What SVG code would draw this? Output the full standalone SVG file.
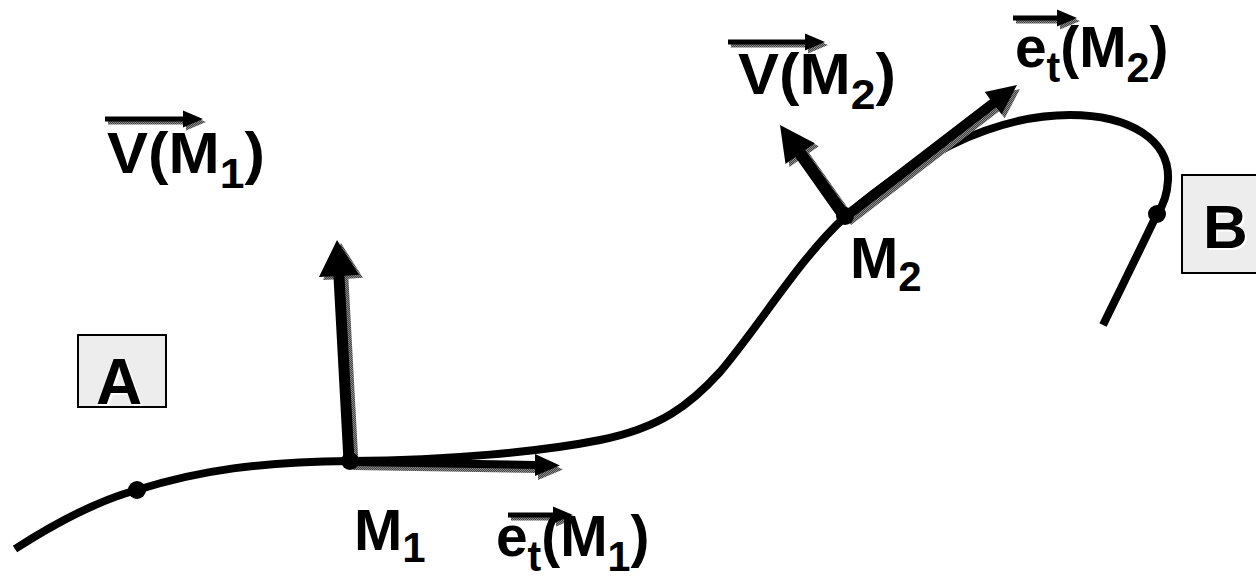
<svg xmlns="http://www.w3.org/2000/svg" width="1256" height="581" viewBox="0 0 1256 581">
<defs>
<pattern id="hatch" width="2" height="2" patternUnits="userSpaceOnUse">
<rect width="2" height="2" fill="#8a8a8a"/>
<rect width="1" height="1" fill="#444"/>
<rect x="1" y="1" width="1" height="1" fill="#444"/>
</pattern>
<style>
.lbl{font-family:"Liberation Sans",Arial,sans-serif;font-weight:bold;fill:#000;font-size:58px}
.sub{font-size:42px}
.box{fill:#ededed;stroke:#000;stroke-width:2}
.curve{fill:none;stroke:#000;stroke-width:8;stroke-linecap:butt}
.shadow{fill:url(#hatch)}
.arr{fill:#000}
</style>
</defs>
<rect width="1256" height="581" fill="#fff"/>

<g id="connectors">
<path class="curve" d="M 15 549 C 60 520, 100 500, 137 490 C 200 470, 260 462, 350 461 C 450 460, 540 452, 600 440 C 660 428, 690 405, 720 372 C 760 325, 800 258, 845 217 C 910 160, 990 115, 1070 115 C 1130 115, 1170 140, 1168 180 C 1167 200, 1160 210, 1157 214 C 1140 250, 1120 290, 1103 325"/>
</g>

<g id="point-start"><circle cx="137" cy="490" r="9"/></g>
<g id="point-end"><circle cx="1157" cy="214" r="9"/></g>

<g id="box-A">
<rect class="box" x="78" y="335" width="88" height="72"/>
<text class="lbl" x="98" y="406" style="font-size:64px;fill:#fff">A</text>
<text class="lbl" x="96" y="404" style="font-size:64px">A</text>
</g>

<g id="box-B">
<rect class="box" x="1182" y="175" width="80" height="98"/>
<text class="lbl" x="1205" y="250" style="font-size:62px;fill:#fff">B</text>
<text class="lbl" x="1203" y="248" style="font-size:62px">B</text>
</g>

<g id="M1">
<polygon class="shadow" transform="translate(4,3)" points="343.51,461.30 333.46,276.25 318.98,277.03 337,240 358.92,274.87 344.44,275.65 354.49,460.70"/>
<polygon class="arr" points="343.51,461.30 333.46,276.25 318.98,277.03 337,240 358.92,274.87 344.44,275.65 354.49,460.70"/>
<polygon class="shadow" transform="translate(3,4)" points="350,458 535,461 535,454 560,465.5 535,476 535,469 350,466"/>
<polygon class="arr" points="350,458 535,461 535,454 560,465.5 535,476 535,469 350,466"/>
<circle cx="350" cy="461" r="9"/>
<text class="lbl" x="354" y="550">M<tspan class="sub" dy="12">1</tspan></text>
</g>

<g id="M2">
<polygon class="shadow" transform="translate(4,3)" points="840.1,220.5 795.3,157.1 785.5,164.0 780,125 814.9,143.2 805.1,150.1 849.9,213.5"/>
<polygon class="arr" points="840.1,220.5 795.3,157.1 785.5,164.0 780,125 814.9,143.2 805.1,150.1 849.9,213.5"/>
<polygon class="shadow" transform="translate(3,4)" points="842.0,213.0 990.2,99.2 984.7,92.1 1017,85 1001.7,114.3 996.2,107.2 848.0,221.0"/>
<polygon class="arr" points="842.0,213.0 990.2,99.2 984.7,92.1 1017,85 1001.7,114.3 996.2,107.2 848.0,221.0"/>
<circle cx="845" cy="216" r="9"/>
<text class="lbl" x="850" y="278">M<tspan class="sub" dy="13">2</tspan></text>
</g>

<g id="label-V-M1">
<polygon class="shadow" transform="translate(3,3)" points="105,116.5 183,116.5 183,110.5 203,119 183,127.5 183,121.5 105,121.5"/>
<polygon class="arr" points="105,116.5 183,116.5 183,110.5 203,119 183,127.5 183,121.5 105,121.5"/>
<g transform="translate(107,173) scale(1.06,1)"><text class="lbl" x="0" y="0">V(M<tspan class="sub" dy="15">1</tspan><tspan dy="-15">)</tspan></text></g>
</g>

<g id="label-V-M2">
<polygon class="shadow" transform="translate(3,3)" points="728,39.5 805,39.5 805,33.5 825,42 805,50.5 805,44.5 728,44.5"/>
<polygon class="arr" points="728,39.5 805,39.5 805,33.5 825,42 805,50.5 805,44.5 728,44.5"/>
<g transform="translate(738,94) scale(1.06,1)"><text class="lbl" x="0" y="0">V(M<tspan class="sub" dy="15">2</tspan><tspan dy="-15">)</tspan></text></g>
</g>

<g id="label-et-M1">
<polygon class="shadow" transform="translate(3,3)" points="508,512.5 553,512.5 553,506.5 573,515 553,523.5 553,517.5 508,517.5"/>
<polygon class="arr" points="508,512.5 553,512.5 553,506.5 573,515 553,523.5 553,517.5 508,517.5"/>
<g transform="translate(496,556) scale(0.98,1)"><text class="lbl" x="0" y="0">e<tspan class="sub" dy="15">t</tspan><tspan dy="-15">(M</tspan><tspan class="sub" dy="15">1</tspan><tspan dy="-15">)</tspan></text></g>
</g>

<g id="label-et-M2">
<polygon class="shadow" transform="translate(3,3)" points="1013,15.5 1057,15.5 1057,9.5 1077,18 1057,26.5 1057,20.5 1013,20.5"/>
<polygon class="arr" points="1013,15.5 1057,15.5 1057,9.5 1077,18 1057,26.5 1057,20.5 1013,20.5"/>
<g transform="translate(1015,67) scale(0.98,1)"><text class="lbl" x="0" y="0">e<tspan class="sub" dy="15">t</tspan><tspan dy="-15">(M</tspan><tspan class="sub" dy="15">2</tspan><tspan dy="-15">)</tspan></text></g>
</g>
</svg>
